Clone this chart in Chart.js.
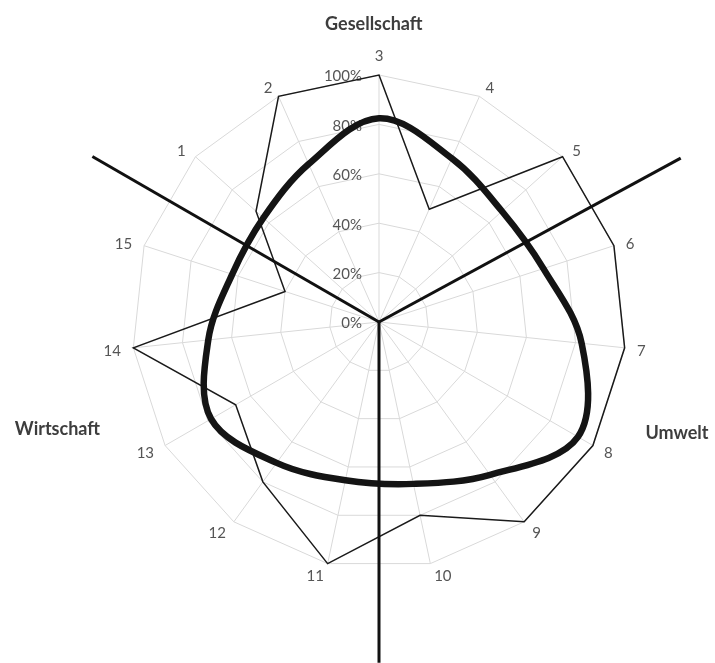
<!DOCTYPE html>
<html><head><meta charset="utf-8">
<script src="https://cdn.jsdelivr.net/npm/chart.js@4.4.1/dist/chart.umd.min.js"></script>
<style>html,body{margin:0;padding:0;background:#fff;}</style>
</head><body>
<canvas id="c" width="715" height="663"></canvas>
<script>
// ---- data ----
const categories = ["3","4","5","6","7","8","9","10","11","12","13","14","15","1","2"];
const indicatorValues = [100,50,100,100,100,100,100,80,100,80,67,100,40,67,100];
const balanceCurveValues = [82.5,72.5,67,70,82.5,93,76.5,67,65.5,70.5,78.5,69.5,62.5,63,70];
const tickValues = [0,20,40,60,80,100];
const tickLabels = ["0%","20%","40%","60%","80%","100%"];
const dimensionNames = ["Gesellschaft","Umwelt","Wirtschaft"];
const dividerAngles = [61.5,180,300];   // degrees, clockwise from top
const dividerLengths = [139,138,134];   // percent of scale

// ---- layout (not data) ----
const dimensionPlacement = [{angle:-1,dist:120.6},{angle:110.4,dist:128.7},{angle:251.6,dist:137.2}];
const FONT = 'Lato, "Open Sans", sans-serif';

const overlay = {
  id:'overlay',
  beforeDatasetsDraw(chart){
    const s = chart.scales.r, ctx = chart.ctx;
    ctx.save();
    ctx.font = '15px ' + FONT;
    ctx.fillStyle = '#555555';
    ctx.textAlign = 'right'; ctx.textBaseline = 'middle';
    tickValues.forEach((v,i)=>{
      const p = s.getPointPositionForValue(0, v);
      ctx.fillText(tickLabels[i], p.x - 17, p.y + 1.5);
    });
    ctx.textAlign = 'center';
    categories.forEach((c,i)=>{
      const w = ctx.measureText(c).width;
      const a = s.getIndexAngle(i);
      const p = s.getPointPosition(i, s.drawingArea + 11);
      const sn = Math.sin(a);
      let x = p.x, y = p.y + 2;
      if (Math.abs(sn) < 1e-6) { y = p.y - 8; }
      else { x = p.x + Math.sign(sn) * (w/2 + 1.5); }
      ctx.fillText(c, x, y);
    });
    ctx.restore();
  },
  afterDatasetsDraw(chart){
    const s = chart.scales.r, ctx = chart.ctx;
    const step = 360 / categories.length;
    ctx.save();
    ctx.strokeStyle = '#111'; ctx.lineWidth = 3; ctx.lineCap = 'butt';
    dividerAngles.forEach((ang,i)=>{
      const p = s.getPointPosition(ang/step, s.getDistanceFromCenterForValue(dividerLengths[i]));
      ctx.beginPath(); ctx.moveTo(s.xCenter, s.yCenter); ctx.lineTo(p.x, p.y); ctx.stroke();
    });
    ctx.font = 'bold 18px ' + FONT;
    ctx.fillStyle = '#3d3d3d'; ctx.textAlign = 'center'; ctx.textBaseline = 'middle';
    dimensionNames.forEach((n,i)=>{
      const pl = dimensionPlacement[i];
      const p = s.getPointPosition(pl.angle/step, s.getDistanceFromCenterForValue(pl.dist));
      ctx.fillText(n, p.x, p.y);
    });
    ctx.restore();
  }
};

new Chart(document.getElementById('c'), {
  type:'radar',
  data:{
    labels: categories,
    datasets:[
      {label:'Ausgleich', data: balanceCurveValues, borderColor:'#141414', borderWidth:6.5, tension:0.35, pointRadius:0, fill:false, order:0},
      {label:'Indikatoren', data: indicatorValues, borderColor:'#1a1a1a', borderWidth:1.5, tension:0, pointRadius:0, fill:false, order:1}
    ]
  },
  options:{
    responsive:false, animation:false, devicePixelRatio:1,
    layout:{padding:{left:132,right:89,top:75,bottom:94}},
    plugins:{legend:{display:false}, tooltip:{enabled:false}, title:{display:false}},
    elements:{line:{capBezierPoints:false}},
    scales:{r:{
      min:0, max:100,
      ticks:{display:false, stepSize:20},
      grid:{color:'#d9d9d9', lineWidth:1},
      angleLines:{color:'#d9d9d9', lineWidth:1},
      pointLabels:{display:false}
    }}
  },
  plugins:[overlay]
});
</script>
</body></html>
